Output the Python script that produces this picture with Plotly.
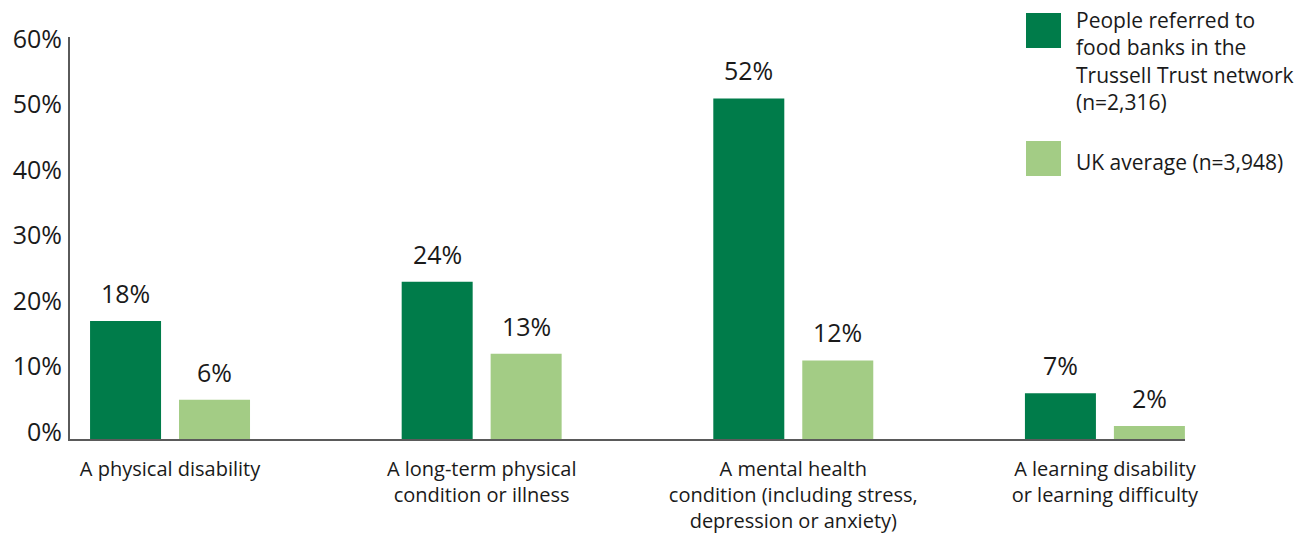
import plotly.graph_objects as go

# ---- data ----
categories = ["physical", "longterm", "mental", "learning"]
category_labels = [
    "A physical disability",
    "A long-term physical<br>condition or illness",
    "A mental health<br>condition (including stress,<br>depression or anxiety)",
    "A learning disability<br>or learning difficulty",
]
series_names = [
    "People referred to<br>food banks in the<br>Trussell Trust network<br>(n=2,316)",
    "UK average (n=3,948)",
]
foodbank = [18, 24, 52, 7]
uk_average = [6, 13, 12, 2]
y_ticks = [0, 10, 20, 30, 40, 50, 60]
y_tick_labels = ["0%", "10%", "20%", "30%", "40%", "50%", "60%"]

# ---- style / layout constants ----
W, H = 1302, 535
L, R, T, B = 70, 117, 37, 96
PW, PH = W - L - R, H - T - B
X_RANGE = [-0.321, 3.257]
Y_RANGE = [0, 61.37]
BARGAP = 0.429
BARGROUPGAP = 0.202
DARK = "#007C4A"
LIGHT = "#A3CC85"
AXIS = "#5a5a5a"
TEXT = "#1a1a1a"
FONT = "Open Sans"

unit_px = PW / (X_RANGE[1] - X_RANGE[0])
bar_offset_px = unit_px * (1 - BARGAP) / 4


def px_x(px):
    return (px - L) / PW


def px_y(py):
    return (H - B - py) / PH


fig = go.Figure()
fig.add_trace(go.Bar(x=categories, y=foodbank, name="foodbank",
                     marker=dict(color=DARK, line=dict(width=0))))
fig.add_trace(go.Bar(x=categories, y=uk_average, name="uk",
                     marker=dict(color=LIGHT, line=dict(width=0))))

annotations = []
for vals, sign in ((foodbank, -1), (uk_average, 1)):
    for c, v in zip(categories, vals):
        annotations.append(dict(
            x=c, y=v, xref="x", yref="y", text=f"{v}%", showarrow=False,
            xanchor="center", yanchor="middle",
            xshift=sign * bar_offset_px, yshift=28,
            font=dict(family=FONT, size=25, color=TEXT)))

# legend (custom)
shapes = []
legend_items = [(series_names[0], DARK, 13, 4), (series_names[1], LIGHT, 141, 146)]
for name, col, sq_top, txt_top in legend_items:
    shapes.append(dict(type="rect", xref="paper", yref="paper",
                       x0=px_x(1026), x1=px_x(1061), y0=px_y(sq_top + 35), y1=px_y(sq_top),
                       fillcolor=col, line=dict(width=0)))
    annotations.append(dict(
        x=px_x(1074), y=px_y(txt_top), xref="paper", yref="paper", text=name,
        showarrow=False, xanchor="left", yanchor="top", align="left",
        font=dict(family=FONT, size=21, color=TEXT)))

fig.update_layout(
    width=W, height=H,
    margin=dict(l=L, r=R, t=T, b=B, pad=0, autoexpand=False),
    paper_bgcolor="white", plot_bgcolor="white",
    barmode="group", bargap=BARGAP, bargroupgap=BARGROUPGAP,
    showlegend=False,
    font=dict(family=FONT, color=TEXT),
    annotations=annotations, shapes=shapes,
    xaxis=dict(
        type="category", range=X_RANGE, tickmode="array",
        tickvals=categories, ticktext=category_labels,
        showline=True, linecolor=AXIS, linewidth=2, ticks="",
        showgrid=False, zeroline=False, fixedrange=True, automargin=False,
        tickfont=dict(family=FONT, size=20, color=TEXT),
        ticklabelstandoff=11,
    ),
    yaxis=dict(
        range=Y_RANGE, tickmode="array", tickvals=y_ticks, ticktext=y_tick_labels,
        showline=True, linecolor=AXIS, linewidth=2, ticks="",
        showgrid=False, zeroline=False, fixedrange=True, automargin=False,
        tickfont=dict(family=FONT, size=25, color=TEXT),
        ticklabelshift=-7, ticklabelstandoff=1,
    ),
)

fig.write_html(
    "out.html",
    config={"displayModeBar": False},
    post_script="document.body.style.margin='0';document.body.style.overflow='hidden';",
)
